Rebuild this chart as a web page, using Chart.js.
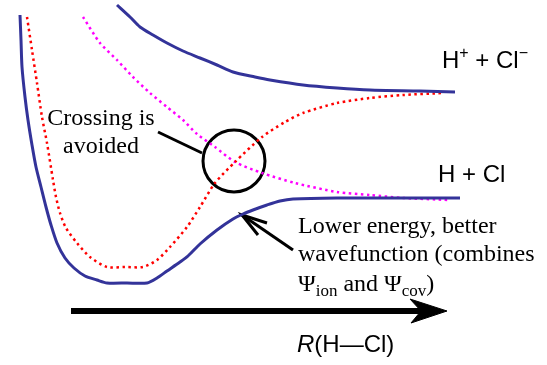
<!DOCTYPE html>
<html>
<head>
<meta charset="utf-8">
<script src="https://cdn.jsdelivr.net/npm/chart.js@4.4.1/dist/chart.umd.min.js"></script>
<style>
html,body{margin:0;padding:0;background:#fff;}
#wrap{width:547px;height:365px;}
</style>
</head>
<body>
<div id="wrap"><canvas id="c" width="547" height="365"></canvas></div>
<script>
// Schematic potential-energy curves for H–Cl
// x: internuclear distance R (arbitrary units), y: energy (arbitrary units, down = lower on screen)
const groundState = [[20,15],[21,40],[22,67],[25,97],[28,120],[32,145],[36,167],[41,187],[46,207],[51,225],[57,243],[65,258],[74,268],[85,276],[97,280],[107,283],[127,283],[147,283],[157,278],[167,271],[180,262],[188,256],[200,244],[217,230],[233,219],[243,214],[253,210],[267,205],[280,201],[293,199],[337,198],[400,198],[460,198]];
const excitedState = [[117,5],[130,17],[140,27],[153,35],[167,43],[183,51],[200,58],[217,65],[233,72],[255,77],[270,80],[303,85],[337,88],[370,90],[420,91],[455,92]];
const ionicCurve = [[27,17],[32,50],[37,83],[42,117],[47,143],[53,180],[56,197],[60,213],[66,228],[77,243],[90,257],[107,267],[125,267],[143,267],[157,260],[170,247],[187,227],[200,207],[215,183],[235,162],[262,137],[285,122],[303,113],[337,103],[370,98],[403,95],[443,93]];
const covalentCurve = [[83,17],[100,43],[117,60],[133,77],[150,93],[167,107],[183,120],[197,134],[215,147],[235,162],[262,173],[295,183],[337,192],[370,195],[403,198],[450,200]];
const crossingPoint = [[234,161]];
const calloutCrossing = [[158,132],[202,153]];
const calloutLower = [[293,250],[242,215]];
const calloutHead1 = [[267,223],[242,215],[258,235]];
const axisShaft = [[71,311],[425,311]];
const axisHead = [[410,299],[447,311],[411,323],[421,311],[410,299]];

const pts = a => a.map(p => ({x:p[0], y:p[1]}));

const labelPlugin = {
  id:'labels',
  afterDatasetsDraw(chart){
    const {ctx, scales:{x, y}} = chart;
    const px = v => x.getPixelForValue(v), py = v => y.getPixelForValue(v);
    const runs = (list, x0, base) => {
      let cx = px(x0);
      for (const r of list){
        ctx.font = r.font;
        ctx.fillText(r.t, cx, py(base) + (r.dy||0));
        cx += ctx.measureText(r.t).width;
      }
    };
    ctx.save();
    ctx.fillStyle = '#000';
    ctx.textBaseline = 'alphabetic';
    const serif = '24px "Liberation Serif", "Times New Roman", serif';
    const serifSub = '17px "Liberation Serif", "Times New Roman", serif';
    const sans = '24px "Liberation Sans", Arial, sans-serif';
    const sansSup = '16px "Liberation Sans", Arial, sans-serif';
    ctx.textAlign = 'center';
    ctx.font = serif;
    ctx.fillText('Crossing is', px(101), py(125));
    ctx.fillText('avoided', px(101), py(153));
    ctx.textAlign = 'left';
    runs([{t:'H',font:sans},{t:'+',font:sansSup,dy:-10},{t:' + Cl',font:sans},{t:'\u2212',font:sansSup,dy:-10}], 442, 68);
    runs([{t:'H + Cl',font:sans}], 438, 182);
    runs([{t:'Lower energy, better',font:serif}], 298, 233);
    runs([{t:'wavefunction (combines',font:serif}], 298, 261);
    runs([{t:'\u03A8',font:serif},{t:'ion',font:serifSub,dy:5},{t:' and \u03A8',font:serif},{t:'cov',font:serifSub,dy:5},{t:')',font:serif}], 298, 291);
    runs([{t:'R',font:'italic '+sans},{t:'(H\u2014Cl)',font:sans}], 297, 352);
    ctx.restore();
  }
};

const lineDs = (data, color, width, dash) => ({
  data: pts(data), showLine:true, borderColor:color, borderWidth:width,
  borderDash: dash || [], pointRadius:0, tension:0.25, fill:false, clip:false
});

new Chart(document.getElementById('c'), {
  type:'scatter',
  data:{datasets:[
    lineDs(groundState, '#333399', 3),
    lineDs(excitedState, '#333399', 3),
    lineDs(ionicCurve, '#ff0000', 2.5, [2.5,3.5]),
    lineDs(covalentCurve, '#ff00ff', 2.5, [2.5,3.5]),
    {data:pts(crossingPoint), showLine:false, pointRadius:31, pointHoverRadius:31, pointBorderWidth:3, pointBorderColor:'#000', pointBackgroundColor:'rgba(0,0,0,0)', clip:false},
    Object.assign(lineDs(calloutCrossing, '#000', 3), {tension:0}),
    Object.assign(lineDs(calloutLower, '#000', 3), {tension:0}),
    Object.assign(lineDs(calloutHead1, '#000', 3), {tension:0}),
    Object.assign(lineDs(axisShaft, '#000', 6), {tension:0, borderCapStyle:'butt'}),
    {data:pts(axisHead), showLine:true, borderColor:'#000', borderWidth:1, backgroundColor:'#000', pointRadius:0, tension:0, fill:'shape', clip:false}
  ]},
  options:{
    responsive:false, animation:false, devicePixelRatio:1,
    layout:{padding:0, autoPadding:false},
    plugins:{legend:{display:false}, tooltip:{enabled:false}},
    scales:{
      x:{type:'linear', min:0, max:547, display:false},
      y:{type:'linear', min:0, max:365, reverse:true, display:false}
    }
  },
  plugins:[labelPlugin]
});
</script>
</body>
</html>
